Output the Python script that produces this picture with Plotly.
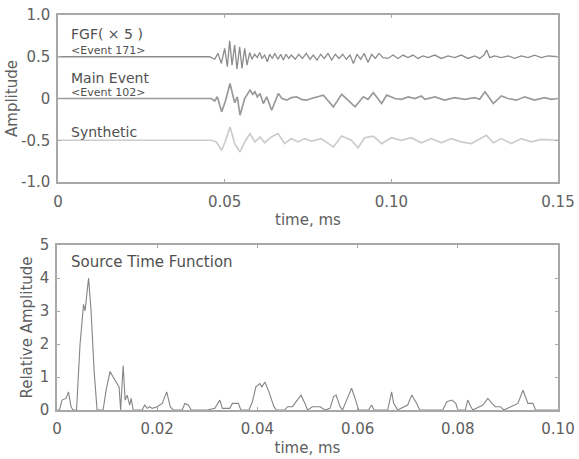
import plotly.graph_objects as go

# ---------------- data ----------------
# Top panel: waveforms (time in ms, deviation from each trace's baseline)
fgf_baseline = 0.5
main_baseline = 0.0
synth_baseline = -0.5

fgf_t = [0.0, 0.0455, 0.0470, 0.0480, 0.0490, 0.0500, 0.0508, 0.0515, 0.0522, 0.0530,
         0.0537, 0.0545, 0.0552, 0.0560, 0.0567, 0.0575, 0.0582, 0.0590, 0.0598, 0.0605,
         0.0612, 0.0620, 0.0628, 0.0635, 0.0643, 0.0650, 0.0660, 0.0668, 0.0676, 0.0684,
         0.0692, 0.0700, 0.0712, 0.0722, 0.0733, 0.0745, 0.0756, 0.0766, 0.0777, 0.0788,
         0.0799, 0.0810, 0.0821, 0.0832, 0.0843, 0.0854, 0.0865, 0.0876, 0.0886, 0.0897,
         0.0908, 0.0919, 0.0930, 0.0941, 0.0952, 0.0963, 0.0975, 0.0990, 0.1005, 0.1020,
         0.1035, 0.1050, 0.1065, 0.1080, 0.1095, 0.1110, 0.1130, 0.1150, 0.1170, 0.1190,
         0.1210, 0.1230, 0.1250, 0.1265, 0.1278, 0.1286, 0.1295, 0.1310, 0.1330, 0.1350,
         0.1370, 0.1390, 0.1410, 0.1430, 0.1450, 0.1470, 0.1500]
fgf_dev = [0.0, 0.0, -0.03, 0.04, -0.08, 0.10, -0.12, 0.19, -0.10, 0.14,
           -0.15, 0.12, -0.14, 0.10, -0.10, 0.05, -0.03, 0.03, -0.01, 0.05,
           -0.02, 0.02, -0.06, 0.03, -0.02, 0.04, -0.03, 0.03, -0.04, 0.03,
           -0.02, 0.02, -0.03, 0.03, -0.02, 0.04, -0.03, 0.02, -0.04, 0.03,
           -0.02, 0.04, -0.04, 0.03, -0.02, 0.03, -0.03, 0.02, -0.08, 0.03,
           -0.03, 0.04, -0.07, 0.03, -0.02, 0.04, -0.01, -0.02, 0.02, -0.02,
           0.02, -0.01, 0.02, -0.02, 0.01, -0.01, 0.02, -0.02, 0.01, -0.01,
           0.02, -0.02, 0.01, -0.02, 0.02, 0.08, -0.01, 0.01, -0.01, 0.01,
           -0.02, 0.01, -0.01, 0.02, -0.01, 0.01, 0.0]

main_t = [0.0, 0.0460, 0.0470, 0.0478, 0.0491, 0.0503, 0.0516, 0.0530, 0.0538, 0.0546,
          0.0560, 0.0576, 0.0584, 0.0591, 0.0598, 0.0606, 0.0616, 0.0626, 0.0641, 0.0661,
          0.0672, 0.0686, 0.0700, 0.0716, 0.0730, 0.0746, 0.0760, 0.0776, 0.0796, 0.0826,
          0.0851, 0.0870, 0.0891, 0.0916, 0.0930, 0.0946, 0.0971, 0.0986, 0.1011, 0.1030,
          0.1051, 0.1071, 0.1090, 0.1101, 0.1131, 0.1160, 0.1190, 0.1220, 0.1250, 0.1265,
          0.1281, 0.1306, 0.1330, 0.1350, 0.1375, 0.1400, 0.1430, 0.1460, 0.1480, 0.1500]
main_dev = [0.0, 0.0, -0.03, 0.02, -0.16, -0.02, 0.18, -0.05, 0.02, -0.20,
            0.0, 0.10, 0.05, 0.08, 0.02, 0.06, -0.06, 0.02, -0.14, 0.06,
            0.0, -0.02, 0.01, 0.02, -0.01, -0.02, 0.0, 0.02, 0.04, -0.10,
            0.05, -0.02, -0.10, 0.02, -0.01, 0.07, -0.06, 0.04, 0.0, -0.01,
            0.02, 0.0, 0.03, -0.01, 0.02, -0.02, 0.01, -0.01, 0.01, -0.01,
            0.08, -0.06, 0.03, 0.0, -0.02, 0.02, -0.02, 0.01, -0.01, 0.0]

synth_t = [0.0, 0.0460, 0.0475, 0.0491, 0.0503, 0.0516, 0.0530, 0.0546, 0.0560, 0.0576,
           0.0591, 0.0606, 0.0620, 0.0640, 0.0660, 0.0680, 0.0700, 0.0720, 0.0740, 0.0760,
           0.0790, 0.0826, 0.0851, 0.0880, 0.0900, 0.0920, 0.0946, 0.0971, 0.1000, 0.1030,
           0.1060, 0.1090, 0.1120, 0.1150, 0.1180, 0.1210, 0.1240, 0.1270, 0.1285, 0.1306,
           0.1330, 0.1360, 0.1390, 0.1420, 0.1450, 0.1500]
synth_dev = [0.0, 0.0, -0.02, -0.12, 0.0, 0.16, -0.04, -0.14, -0.02, 0.08,
             -0.02, 0.04, -0.03, 0.04, 0.08, -0.04, 0.02, -0.02, 0.02, -0.01,
             0.02, -0.08, 0.05, 0.0, -0.09, 0.03, 0.05, -0.04, 0.03, 0.0,
             0.03, -0.03, 0.02, -0.03, 0.02, -0.02, -0.04, 0.02, 0.06, -0.03,
             0.02, -0.04, 0.02, -0.02, 0.01, 0.0]

# Bottom panel: source time function
stf_t = [0.0, 0.0005, 0.0010, 0.0018, 0.0023, 0.0028, 0.0032, 0.0039, 0.0046, 0.0053,
         0.0056, 0.0063, 0.0068, 0.0074, 0.0080, 0.0092, 0.0098, 0.0106, 0.0112, 0.0119,
         0.0124, 0.0127, 0.0132, 0.0136, 0.0140, 0.0145, 0.0148, 0.0152, 0.0170, 0.0175,
         0.0180, 0.0185, 0.0190, 0.0200, 0.0210, 0.0219, 0.0226, 0.0232, 0.0250, 0.0255,
         0.0262, 0.0268, 0.0300, 0.0315, 0.0325, 0.0330, 0.0345, 0.0350, 0.0362, 0.0367,
         0.0383, 0.0390, 0.0397, 0.0405, 0.0409, 0.0415, 0.0423, 0.0433, 0.0438, 0.0455,
         0.0460, 0.0470, 0.0480, 0.0487, 0.0495, 0.0500, 0.0510, 0.0525, 0.0535, 0.0545,
         0.0552, 0.0557, 0.0565, 0.0570, 0.0578, 0.0588, 0.0595, 0.0602, 0.0622, 0.0628,
         0.0633, 0.0660, 0.0668, 0.0672, 0.0680, 0.0700, 0.0708, 0.0718, 0.0724, 0.0770,
         0.0778, 0.0788, 0.0796, 0.0800, 0.0815, 0.0820, 0.0826, 0.0830, 0.0850, 0.0860,
         0.0868, 0.0875, 0.0885, 0.0892, 0.0920, 0.0930, 0.0940, 0.0950, 0.0955, 0.1000]
stf_v = [0.0, 0.0, 0.3, 0.35, 0.55, 0.1, 0.0, 0.0, 2.0, 3.2,
         3.0, 4.0, 3.0, 1.2, 0.0, 0.0, 0.6, 1.17, 1.0, 0.8,
         0.7, 0.0, 1.35, 0.3, 0.45, 0.15, 0.35, 0.0, 0.0, 0.15,
         0.05, 0.1, 0.05, 0.1, 0.2, 0.55, 0.1, 0.0, 0.0, 0.2,
         0.15, 0.0, 0.0, 0.05, 0.3, 0.05, 0.05, 0.2, 0.2, 0.0,
         0.0, 0.25, 0.7, 0.8, 0.7, 0.85, 0.55, 0.1, 0.0, 0.0,
         0.1, 0.1, 0.3, 0.45, 0.2, 0.0, 0.1, 0.1, 0.0, 0.05,
         0.4, 0.45, 0.1, 0.0, 0.3, 0.66, 0.35, 0.0, 0.0, 0.15,
         0.0, 0.0, 0.55, 0.2, 0.0, 0.15, 0.45, 0.2, 0.0, 0.0,
         0.25, 0.3, 0.2, 0.0, 0.0, 0.3, 0.1, 0.0, 0.15, 0.35,
         0.2, 0.1, 0.1, 0.0, 0.2, 0.6, 0.2, 0.2, 0.0, 0.0]

top_xticks = [0, 0.05, 0.10, 0.15]
top_xlabels = ["0", "0.05", "0.10", "0.15"]
top_yticks = [-1.0, -0.5, 0, 0.5, 1.0]
top_ylabels = ["-1.0", "-0.5", "0", "0.5", "1.0"]
bot_xticks = [0, 0.02, 0.04, 0.06, 0.08, 0.10]
bot_xlabels = ["0", "0.02", "0.04", "0.06", "0.08", "0.10"]
bot_yticks = [0, 1, 2, 3, 4, 5]
bot_ylabels = ["0", "1", "2", "3", "4", "5"]

# ---------------- figure ----------------
W, H = 579, 459


def px_x(p):
    return p / W


def px_y(p):
    return 1 - p / H


FONT = "DejaVu Sans"
AX = "#a8a8a8"
TXT = "#606060"

fig = go.Figure()
fig.add_trace(go.Scatter(x=fgf_t, y=[fgf_baseline + d for d in fgf_dev], mode="lines",
                         line=dict(color="#8c8c8c", width=1.3), name="FGF (×5)",
                         xaxis="x", yaxis="y"))
fig.add_trace(go.Scatter(x=main_t, y=[main_baseline + d for d in main_dev], mode="lines",
                         line=dict(color="#9a9a9a", width=1.7), name="Main Event",
                         xaxis="x", yaxis="y"))
fig.add_trace(go.Scatter(x=synth_t, y=[synth_baseline + d for d in synth_dev], mode="lines",
                         line=dict(color="#cccccc", width=1.7), name="Synthetic",
                         xaxis="x", yaxis="y"))
fig.add_trace(go.Scatter(x=stf_t, y=stf_v, mode="lines",
                         line=dict(color="#858585", width=1.1), name="Source Time Function",
                         xaxis="x2", yaxis="y2"))

axis_common = dict(showgrid=False, zeroline=False, showline=True, linecolor=AX, linewidth=1.5,
                   mirror="ticks", ticks="inside", ticklen=3, tickcolor=AX, automargin=False,
                   tickfont=dict(family=FONT, size=15, color=TXT))
xtitle_font = dict(family=FONT, size=15, color=TXT)
ytitle_font = dict(family=FONT, size=15, color=TXT)

fig.update_layout(
    width=W, height=H,
    margin=dict(l=0, r=0, t=0, b=0),
    paper_bgcolor="white", plot_bgcolor="white",
    showlegend=False,
    xaxis=dict(axis_common, domain=[px_x(58), px_x(558)], range=[0, 0.15],
               tickvals=top_xticks, ticktext=top_xlabels, anchor="y", ticklabelstandoff=5,
               title=dict(text="time, ms", font=xtitle_font, standoff=5)),
    yaxis=dict(axis_common, domain=[px_y(182), px_y(15)], range=[-1.0, 1.0],
               tickvals=top_yticks, ticktext=top_ylabels, anchor="x", ticklabelstandoff=3,
               title=dict(text="Amplitude", font=ytitle_font, standoff=0)),
    xaxis2=dict(axis_common, domain=[px_x(57), px_x(558)], range=[0, 0.10],
                tickvals=bot_xticks, ticktext=bot_xlabels, anchor="y2", ticklabelstandoff=4,
                title=dict(text="time, ms", font=xtitle_font, standoff=6)),
    yaxis2=dict(axis_common, domain=[px_y(410), px_y(245)], range=[0, 5],
                tickvals=bot_yticks, ticktext=bot_ylabels, anchor="x2", ticklabelstandoff=3,
                title=dict(text="Relative Amplitude", font=ytitle_font, standoff=3)),
)

labels = [
    ("FGF( × 5 )", 0.0033, 0.77, 14),
    ("<Event 171>", 0.0033, 0.575, 11),
    ("Main Event", 0.0033, 0.25, 14),
    ("<Event 102>", 0.0033, 0.075, 11),
    ("Synthetic", 0.0033, -0.40, 14),
]
for text, x, y, size in labels:
    fig.add_annotation(x=x, y=y, xref="x", yref="y", text=text, showarrow=False,
                       xanchor="left", yanchor="middle",
                       font=dict(family=FONT, size=size, color="#505050"))
fig.add_annotation(x=0.0024, y=4.48, xref="x2", yref="y2", text="Source Time Function",
                   showarrow=False, xanchor="left", yanchor="middle",
                   font=dict(family=FONT, size=15, color="#505050"))

# Place the figure at the page's top-left corner (no default body margin).
fig.write_html("out.html", config={"displayModeBar": False},
               post_script="document.body.style.margin='0';document.body.style.overflow='hidden';")
